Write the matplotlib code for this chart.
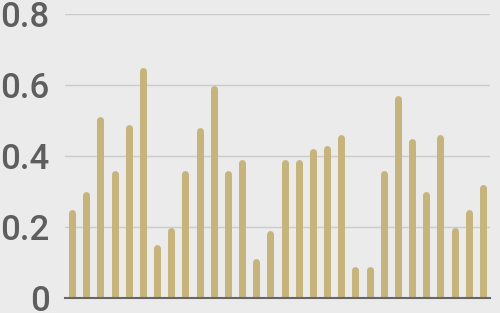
import matplotlib
matplotlib.use("Agg")
import matplotlib.pyplot as plt
import numpy as np
from matplotlib import font_manager as fm

values = [0.25, 0.30, 0.51, 0.36, 0.49, 0.65, 0.15, 0.20, 0.36, 0.48,
          0.60, 0.36, 0.39, 0.11, 0.19, 0.39, 0.39, 0.42, 0.43, 0.46,
          0.09, 0.09, 0.36, 0.57, 0.45, 0.30, 0.46, 0.20, 0.25, 0.32]
yticks = [0, 0.2, 0.4, 0.6, 0.8]
ytick_labels = ["0", "0.2", "0.4", "0.6", "0.8"]

bg = "#ebebeb"
bar_color = "#c7b47d"

fig = plt.figure(figsize=(5.0, 3.13), dpi=100, facecolor=bg)
ax = fig.add_axes([0.13, 0.048, 0.85, 0.907], facecolor=bg)

x = np.arange(len(values))
ax.set_xlim(-0.5, len(values) - 0.5)
ax.set_ylim(0, 0.8)

bar_px = 7.0
lw_pt = bar_px * 72 / fig.dpi
ax_h_px = ax.get_position().height * fig.get_figheight() * fig.dpi
r_data = (bar_px / 2) / ax_h_px * 0.8
vals = np.array(values)
ax.vlines(x, -0.05, vals - r_data, colors=bar_color, linewidth=lw_pt,
          capstyle="round", zorder=3)

ax.set_yticks(yticks)
ax.set_yticklabels(ytick_labels, fontsize=25, fontweight="medium",
                   color="#5e5e5e", family="Roboto")
ax.tick_params(axis="y", length=0, pad=11)
ax.set_xticks([])
ax.grid(axis="y", color="#cbcbcb", linewidth=1)
ax.set_axisbelow(True)
for s in ["top", "right", "left"]:
    ax.spines[s].set_visible(False)
ax.spines["bottom"].set_color("#666666")
ax.spines["bottom"].set_linewidth(1.5)
ax.spines["bottom"].set_zorder(4)

fig.savefig("out.png", dpi=100, facecolor=bg)
